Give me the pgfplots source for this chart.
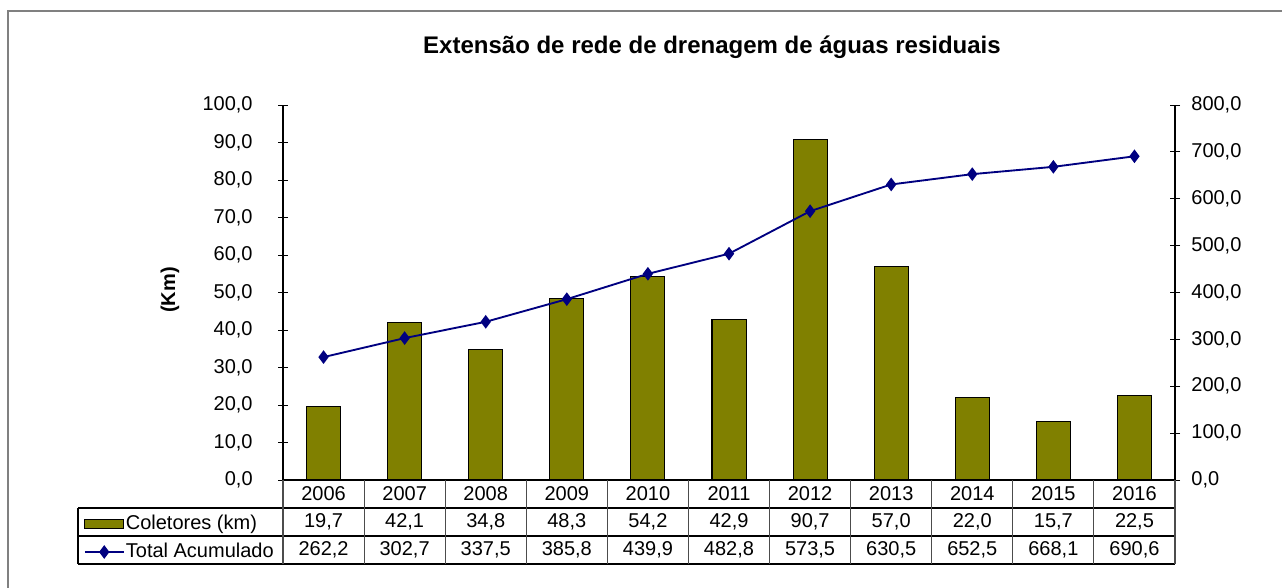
\documentclass[border=0pt]{standalone}
\usepackage{pgfplots}
\pgfplotsset{compat=1.18}
\usepackage{fontspec}
\setmainfont{Liberation Sans}
\definecolor{olivebar}{RGB}{128,128,0}
\definecolor{navyline}{RGB}{0,0,128}
\definecolor{framegray}{RGB}{128,128,128}
\pgfplotsset{
  mybarleg/.style={legend image code/.code={\draw[##1] (0pt,-3.5pt) rectangle (29pt,3.5pt);}},
  mylineleg/.style={legend image code/.code={\draw[##1, mark repeat=2, mark phase=2] plot coordinates {(0pt,0pt) (14.5pt,0pt) (29pt,0pt)};}},
}
\newcommand{\tfont}{\fontsize{15}{17}\selectfont}
\begin{document}
\begin{tikzpicture}[x=0.75pt,y=-0.75pt]
\useasboundingbox (0,0) rectangle (1282,587);
\draw[framegray, line width=1.5pt] (8,11) rectangle (1320,620);
\node[font=\bfseries\fontsize{18}{21}\selectfont] at (712,47) {Extensão de rede de drenagem de águas residuais};
\node[font=\bfseries\fontsize{15}{17}\selectfont, rotate=90] at (170,290) {(Km)};
\coordinate (AX) at (283,480);
\pgfplotsset{
  common/.style={
    at={(AX)}, anchor=south west, scale only axis,
    width=669pt, height=281.25pt,
    xmin=-0.5, xmax=10.5, xtick=\empty,
    tick align=center, major tick length=7.5pt,
    tick style={black, line width=0.6pt},
    axis line style={black, line width=0.8pt},
    ticklabel style={font=\tfont},
    /pgf/number format/.cd, use comma, fixed, fixed zerofill, precision=1, assume math mode=true,
  }
}
\begin{axis}[common,
  axis y line*=left, axis x line*=bottom,
  ymin=0, ymax=100, ytick={0,10,...,100},
  yticklabel style={xshift=-15.5pt},
  clip=false]
\addplot[ybar, bar width=0.42, fill=olivebar, draw=black, line width=0.8pt]
  coordinates {(0,19.7) (1,42.1) (2,34.8) (3,48.3) (4,54.2) (5,42.9) (6,90.7) (7,57.0) (8,22.0) (9,15.7) (10,22.5)};
\end{axis}
\begin{axis}[common,
  axis y line*=right, axis x line=none,
  ymin=0, ymax=800, ytick={0,100,...,800},
  yticklabel style={xshift=5pt},
  clip=false,
  legend style={at={(-0.2231,-0.0880)}, anchor=north west, draw=none, fill=none,
    font=\tfont, row sep=4.5pt, inner sep=0pt, outer sep=0pt,
    nodes={inner sep=1pt, text height=11pt, text depth=3.5pt}},
  legend cell align=left]
\addlegendimage{area legend, fill=olivebar, draw=black, line width=0.8pt, mybarleg}
\addlegendentry{Coletores (km)}
\addplot[navyline, line width=1.4pt, mark=diamond*, mark size=4pt, mylineleg]
  coordinates {(0,262.2) (1,302.7) (2,337.5) (3,385.8) (4,439.9) (5,482.8) (6,573.5) (7,630.5) (8,652.5) (9,668.1) (10,690.6)};
\addlegendentry{Total Acumulado}
\end{axis}
% data table grid
\draw[black, line width=0.8pt] (78,508) -- (1175,508) (78,536) -- (1175,536) (78,564) -- (1175,564);
\draw[black, line width=0.8pt] (78,508) -- (78,564);
\foreach \i in {0,...,11} {\draw[black!70, line width=0.8pt] ({283+81.0909*\i},480) -- ({283+81.0909*\i},564);}
\foreach \y [count=\i from 0] in {2006,2007,2008,2009,2010,2011,2012,2013,2014,2015,2016}
  {\node[font=\tfont] at ({283+81.0909*(\i+0.5)},494) {\y};}
\foreach \v [count=\i from 0] in {{19,7},{42,1},{34,8},{48,3},{54,2},{42,9},{90,7},{57,0},{22,0},{15,7},{22,5}}
  {\node[font=\tfont] at ({283+81.0909*(\i+0.5)},522) {\v};}
\foreach \v [count=\i from 0] in {{262,2},{302,7},{337,5},{385,8},{439,9},{482,8},{573,5},{630,5},{652,5},{668,1},{690,6}}
  {\node[font=\tfont] at ({283+81.0909*(\i+0.5)},550) {\v};}
\end{tikzpicture}
\end{document}
